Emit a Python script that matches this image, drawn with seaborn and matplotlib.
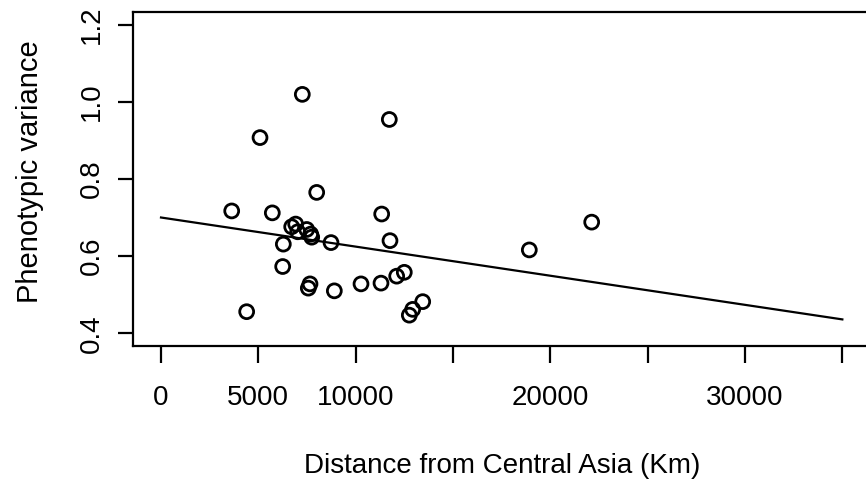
import matplotlib
matplotlib.use("Agg")
import matplotlib.pyplot as plt
import seaborn as sns
import pandas as pd

distance_km = [3632, 4401, 5086, 5718, 6250, 6284, 6713, 6919, 7022, 7259,
               7485, 7567, 7654, 7690, 7742, 7998, 8733, 8904, 10274, 11301,
               11336, 11728, 11763, 12107, 12498, 12756, 12930, 13444, 18920, 22124]
phen_var = [0.717, 0.456, 0.907, 0.712, 0.573, 0.631, 0.676, 0.683, 0.663, 1.019,
            0.669, 0.517, 0.528, 0.657, 0.649, 0.765, 0.635, 0.510, 0.528, 0.530,
            0.709, 0.954, 0.640, 0.548, 0.558, 0.447, 0.462, 0.482, 0.616, 0.688]
fit_x = [0, 35000]
fit_y = [0.700, 0.436]
x_ticks = [0, 5000, 10000, 15000, 20000, 25000, 30000, 35000]
x_tick_labels = ["0", "5000", "10000", "", "20000", "", "30000", ""]
y_ticks = [0.4, 0.6, 0.8, 1.0, 1.2]
y_tick_labels = ["0.4", "0.6", "0.8", "1.0", "1.2"]

plt.rcParams['font.family'] = ['Liberation Sans', 'DejaVu Sans']

W, H = 866, 480
fig = plt.figure(figsize=(W / 100, H / 100), dpi=100)
L, T, B, R = 133, 12, 346, 872
ax = fig.add_axes([L / W, 1 - B / H, (R - L) / W, (B - T) / H])

pts = pd.DataFrame({"d": distance_km, "v": phen_var})
fit = pd.DataFrame({"d": fit_x, "v": fit_y})
sns.lineplot(data=fit, x="d", y="v", ax=ax, color="black", linewidth=1.6)
sns.scatterplot(data=pts, x="d", y="v", ax=ax, s=100, facecolor="none",
                edgecolor="black", linewidth=2.0, zorder=3)

ppx = 0.019467  # px per km
ax.set_xlim((L - 161) / ppx, (R - 161) / ppx)
ax.set_ylim(1.2 - (B - 24.5) / 386, 1.2 + (24.5 - T) / 386)

ax.set_xticks(x_ticks)
ax.set_xticklabels(x_tick_labels)
ax.set_yticks(y_ticks)
ax.set_yticklabels(y_tick_labels, rotation=90, va="center")

ax.tick_params(axis="x", direction="out", length=12, width=1.6, labelsize=20, pad=16)
ax.tick_params(axis="y", direction="out", length=11, width=1.6, labelsize=20, pad=9)
for s in ax.spines.values():
    s.set_linewidth(1.6)

ax.set_xlabel("Distance from Central Asia (Km)", fontsize=20, labelpad=30)
ax.set_ylabel("Phenotypic variance", fontsize=21)
ax.yaxis.set_label_coords(-(133 - 44) / (R - L), (B - 172) / (B - T))

fig.savefig("out.png", dpi=100)
